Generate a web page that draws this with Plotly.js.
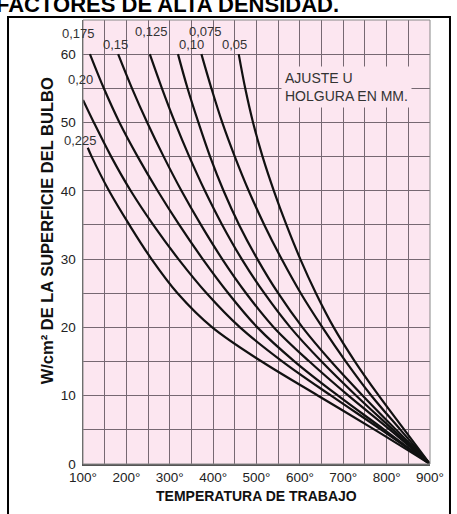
<!DOCTYPE html>
<html>
<head>
<meta charset="utf-8">
<script src="https://cdn.plot.ly/plotly-3.0.1.min.js"></script>
<style>html,body{margin:0;padding:0;background:#fff;}#chart{width:457px;height:514px;}</style>
</head>
<body>
<div id="chart"></div>
<script>
// Holgura (mm) curve labels
const gapLabels = ["0,225", "0,20", "0,175", "0,15", "0,125", "0,10", "0,075", "0,05"];
// Temperature (x) and W/cm2 (y), one pair of arrays per curve
const x_0225 = [111, 120, 160, 207, 258, 318, 398, 512, 642, 773, 900];
const y_0225 = [46.3, 45, 40, 35, 30, 25, 20, 15, 10, 5, 0];
const x_020 = [100, 125, 165, 210, 262, 320, 385, 462, 560, 672, 788, 900];
const y_020 = [53.3, 50, 45, 40, 35, 30, 25, 20, 15, 10, 5, 0];
const x_0175 = [116, 148, 184, 226, 272, 322, 376, 435, 502, 588, 688, 795, 900];
const y_0175 = [60, 55, 50, 45, 40, 35, 30, 25, 20, 15, 10, 5, 0];
const x_015 = [181, 213, 248, 286, 327, 372, 421, 476, 540, 622, 712, 808, 900];
const y_015 = [60, 55, 50, 45, 40, 35, 30, 25, 20, 15, 10, 5, 0];
const x_0125 = [254, 282, 312, 345, 381, 421, 466, 518, 578, 650, 730, 815, 900];
const y_0125 = [60, 55, 50, 45, 40, 35, 30, 25, 20, 15, 10, 5, 0];
const x_010 = [319, 341, 366, 393, 424, 460, 502, 550, 606, 672, 745, 822, 900];
const y_010 = [60, 55, 50, 45, 40, 35, 30, 25, 20, 15, 10, 5, 0];
const x_0075 = [373, 396, 421, 450, 482, 518, 558, 602, 652, 706, 765, 832, 900];
const y_0075 = [60, 55, 50, 45, 40, 35, 30, 25, 20, 15, 10, 5, 0];
const x_005 = [459, 474, 492, 514, 540, 569, 601, 637, 678, 727, 782, 841, 900];
const y_005 = [60, 55, 50, 45, 40, 35, 30, 25, 20, 15, 10, 5, 0];

const xTickVals = [100, 200, 300, 400, 500, 600, 700, 800, 900];
const xTickText = ["100°", "200°", "300°", "400°", "500°", "600°", "700°", "800°", "900°"];
const yTickVals = [0, 10, 20, 30, 40, 50, 60];

const series = [[x_0225, y_0225], [x_020, y_020], [x_0175, y_0175], [x_015, y_015],
                [x_0125, y_0125], [x_010, y_010], [x_0075, y_0075], [x_005, y_005]];

const traces = series.map((s, i) => ({
  x: s[0], y: s[1], type: 'scatter', mode: 'lines', name: gapLabels[i],
  line: {color: '#111', width: 2.2, shape: 'spline', smoothing: 1},
  hoverinfo: 'skip', showlegend: false
}));

const PINK = '#fce6f0';
const GRID = '#766872';
const FONT = 'Liberation Sans, Arial, sans-serif';

// label positions in paper coordinates
const labelPos = [
  [-0.0086, 0.7275], [-0.0058, 0.8671], [-0.0144, 0.9707], [0.0951, 0.9459],
  [0.196, 0.973], [0.3141, 0.9459], [0.3516, 0.973], [0.4352, 0.9459]
];
const annotations = gapLabels.map((t, i) => ({
  text: t, xref: 'paper', yref: 'paper', x: labelPos[i][0], y: labelPos[i][1],
  xanchor: 'center', yanchor: 'middle', showarrow: false,
  font: {family: FONT, size: 13, color: '#333'}
}));
annotations.push({
  text: 'AJUSTE U<br>HOLGURA EN MM.', xref: 'paper', yref: 'paper', x: 0.572, y: 0.8502,
  xanchor: 'left', yanchor: 'middle', align: 'left', showarrow: false,
  bgcolor: PINK, borderpad: 3,
  font: {family: FONT, size: 14, color: '#333'}
});
annotations.push({
  text: 'W/cm² DE LA SUPERFICIE DEL BULBO', xref: 'paper', yref: 'paper', x: -0.1037, y: 0.524,
  xanchor: 'center', yanchor: 'middle', textangle: -90, showarrow: false,
  font: {family: FONT, size: 16.5, color: '#111', weight: 'bold'}
});
annotations.push({
  text: 'TEMPERATURA DE TRABAJO', xref: 'paper', yref: 'paper', x: 0.4986, y: -0.0721,
  xanchor: 'center', yanchor: 'middle', showarrow: false,
  font: {family: FONT, size: 14, color: '#111', weight: 'bold'}
});
annotations.push({
  text: 'FACTORES DE ALTA DENSIDAD.', xref: 'paper', yref: 'paper', x: 0.7435, y: 1.036,
  xanchor: 'right', yanchor: 'middle', showarrow: false,
  font: {family: FONT, size: 22, color: '#000', weight: 'bold'}
});

const layout = {
  width: 457, height: 514,
  margin: {l: 83, r: 27, t: 20, b: 50},
  paper_bgcolor: '#ffffff', plot_bgcolor: PINK,
  font: {family: FONT, size: 13, color: '#222'},
  xaxis: {
    range: [100, 900], tickvals: xTickVals, ticktext: xTickText,
    showgrid: true, gridcolor: GRID, gridwidth: 1,
    minor: {dtick: 50, tick0: 100, showgrid: true, gridcolor: GRID, gridwidth: 1},
    showline: true, linecolor: '#555', linewidth: 1.5, mirror: false,
    zeroline: false, ticks: '', tickfont: {family: FONT, size: 13.5, color: '#222'},
    fixedrange: true
  },
  yaxis: {
    range: [0, 65], tickvals: yTickVals,
    showgrid: true, gridcolor: GRID, gridwidth: 1,
    minor: {dtick: 5, tick0: 0, showgrid: true, gridcolor: GRID, gridwidth: 1},
    showline: true, linecolor: '#555', linewidth: 1.5,
    zeroline: false, ticks: '', ticklabelstandoff: 3,
    tickfont: {family: FONT, size: 13.5, color: '#222'},
    fixedrange: true
  },
  shapes: [
    {type: 'rect', xref: 'paper', yref: 'paper', x0: 0, x1: 1, y0: 0, y1: 1,
     line: {color: '#888', width: 1}, fillcolor: 'rgba(0,0,0,0)', layer: 'above'},
    {type: 'rect', xref: 'paper', yref: 'paper', x0: -0.2161, x1: 1.0576, y0: -0.1486, y1: 1.007,
     line: {color: '#000', width: 2}, fillcolor: 'rgba(0,0,0,0)'}
  ],
  annotations: annotations,
  showlegend: false
};

Plotly.newPlot('chart', traces, layout, {staticPlot: true, displayModeBar: false});
</script>
</body>
</html>
